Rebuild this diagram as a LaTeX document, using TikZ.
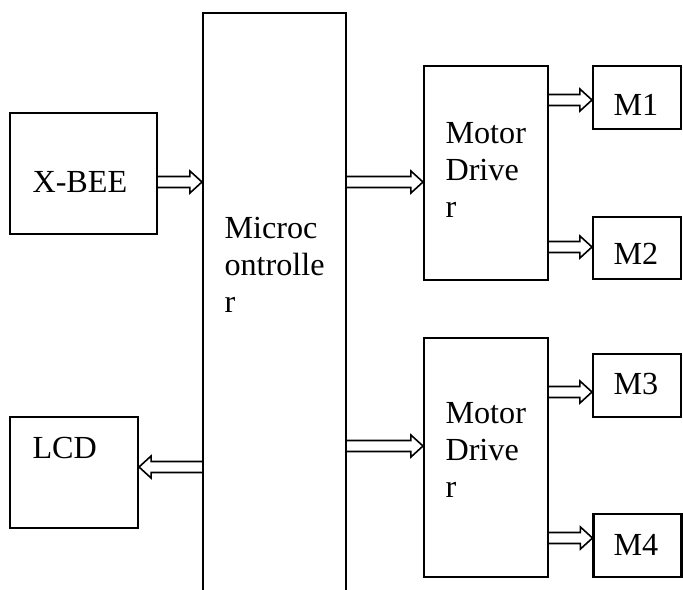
\documentclass[tikz,border=0pt]{standalone}
\usepackage{fontspec}
\setmainfont{Liberation Serif}
\usetikzlibrary{calc}
\newcommand{\pxl}{0.373pt}
\tikzset{
  box/.style={draw, line width=0.75pt, inner sep=0pt},
  txt/.style={anchor=base west, align=left, inner sep=0pt, font=\fontsize{12}{13.8}\selectfont},
  hollow/.style={line width=0.6pt, to path={
    let \p1=(\tikztostart), \p2=(\tikztotarget), \n1={ifthenelse(\x2>\x1,1,-1)} in
    (\x1,\y1+2.05pt) -- (\x2-\n1*4.5pt,\y1+2.05pt) -- (\x2-\n1*4.5pt,\y1+4.1pt) -- (\x2,\y1)
    -- (\x2-\n1*4.5pt,\y1-4.1pt) -- (\x2-\n1*4.5pt,\y1-2.05pt) -- (\x1,\y1-2.05pt)}}
}
\begin{document}
\begin{tikzpicture}[x=\pxl,y=-\pxl]
\useasboundingbox (0,0) rectangle (683,589);
% blocks
\node[box, minimum width=147*\pxl, minimum height=121*\pxl] (xbee) at (83.5,173.5) {};
\node[box, minimum width=128*\pxl, minimum height=111*\pxl] (lcd) at (74,472.5) {};
\node[box, minimum width=143*\pxl, minimum height=607*\pxl] (mcu) at (274.5,316.5) {};
\node[box, minimum width=124*\pxl, minimum height=214*\pxl] (drv1) at (486,173) {};
\node[box, minimum width=124*\pxl, minimum height=239*\pxl] (drv2) at (486,457.5) {};
\node[box, minimum width=88*\pxl, minimum height=63*\pxl] (m1) at (637,97.5) {};
\node[box, minimum width=88*\pxl, minimum height=62*\pxl] (m2) at (637,248) {};
\node[box, minimum width=88*\pxl, minimum height=63*\pxl] (m3) at (637,385.5) {};
\node[box, minimum width=88*\pxl, minimum height=63*\pxl] (m4) at (637.5,545.5) {};
% labels (base = last line)
\node[txt] (xbeetext) at (32,192) {X-BEE};
\node[txt] (lcdtext) at (32,458) {LCD};
\node[txt] (mcutext) at (224,312) {Microc\\ontrolle\\r};
\node[txt] (drv1text) at (445,217) {Motor\\Drive\\r};
\node[txt] (drv2text) at (445,497) {Motor\\Drive\\r};
\node[txt] (m1text) at (613,115) {M1};
\node[txt] (m2text) at (613,264) {M2};
\node[txt] (m3text) at (613,394) {M3};
\node[txt] (m4text) at (613,555) {M4};
% arrows
\foreach \a/\b/\yy in {xbee.east/mcu.west/182, mcu.east/drv1.west/182, mcu.east/drv2.west/446,
  mcu.west/lcd.east/467, drv1.east/m1.west/100, drv1.east/m2.west/247,
  drv2.east/m3.west/392, drv2.east/m4.west/538}
  \draw[hollow] (\a |- 0,\yy) to (\b |- 0,\yy);
\end{tikzpicture}
\end{document}
